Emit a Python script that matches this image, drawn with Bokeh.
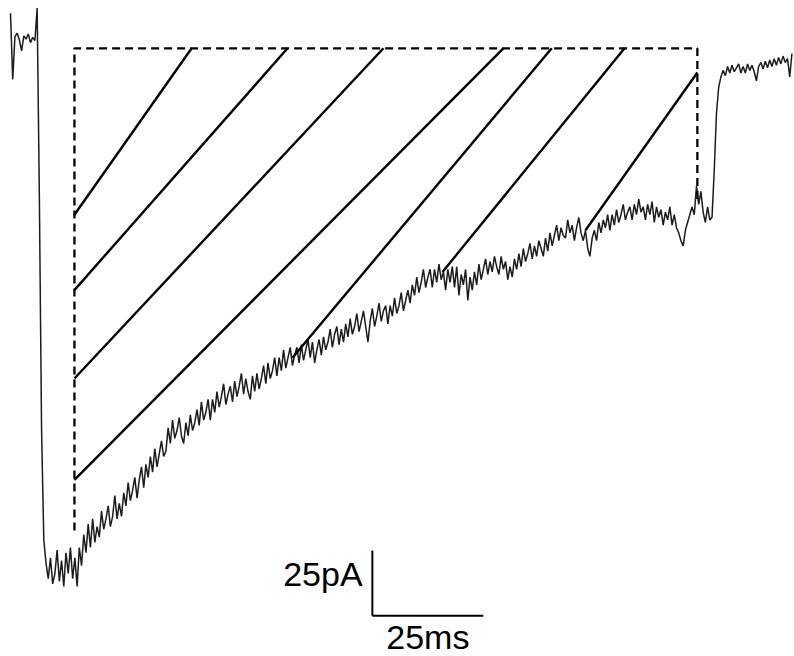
import numpy as np
from bokeh.plotting import figure
from bokeh.models import Range1d
from bokeh.core.properties import value
from bokeh.embed import file_html
from bokeh.resources import INLINE

# Whole-cell current trace, sampled every 0.5 ms (time in ms, current in pA)
dt_ms = 0.5
current_pa = [
    10.5, -15.0, 1.5, 2.8, 0.2, -4.0, 1.8, 0.5, 2.5, -0.8,
    1.2, 0.0, 12.5, -60, -150, -192, -201, -207, -199, -209,
    -205, -196, -208, -200, -210, -197, -205, -195, -207, -199,
    -210, -195, -202, -190, -197, -186, -195, -184, -193, -187,
    -191, -181, -188, -184, -179, -187, -183, -175, -184, -178,
    -183, -174, -179, -170, -177, -173, -168, -176, -169, -164,
    -172, -163, -168, -160, -166, -157, -164, -159, -154, -160,
    -158, -149, -155, -146, -153, -150, -145, -152, -155, -147,
    -152, -144, -150, -147, -142, -148, -139, -146, -143, -138,
    -146, -138, -143, -135, -141, -137, -132, -140, -136, -133,
    -139, -131, -137, -133, -128, -136, -130, -135, -138, -129,
    -135, -128, -134, -130, -125, -132, -124, -130, -127, -122,
    -129, -122, -127, -119, -126, -122, -118, -125, -121, -118,
    -124, -117, -123, -119, -115, -122, -116, -124, -119, -115,
    -121, -114, -119, -116, -111, -118, -113, -110, -117, -111,
    -116, -109, -114, -107, -113, -110, -105, -112, -108, -104,
    -110, -116, -108, -103, -110, -106, -101, -108, -104, -102,
    -109, -102, -106, -99, -105, -102, -97, -104, -100, -96,
    -101, -94, -98, -91, -97, -93, -88, -95, -91, -88,
    -95, -88, -93, -86, -92, -89, -96, -88, -93, -87,
    -95, -87, -98, -90, -94, -88, -100, -91, -96, -89,
    -94, -86, -92, -88, -84, -90, -85, -89, -83, -87,
    -90, -83, -88, -85, -92, -87, -91, -84, -88, -82,
    -87, -80, -85, -82, -78, -84, -79, -83, -77, -80,
    -83, -76, -81, -74, -79, -75, -71, -77, -72, -75,
    -76, -69, -74, -71, -77, -72, -68, -74, -77, -73,
    -80, -83, -76, -73, -77, -70, -74, -69, -72, -67,
    -73, -67, -71, -65, -70, -67, -63, -69, -66, -64,
    -69, -63, -67, -61, -66, -64, -69, -63, -67, -62,
    -70, -64, -68, -65, -71, -66, -69, -64, -71, -67,
    -72, -74, -77, -79, -73, -70, -67, -64, -67, -56,
    -63, -58, -66, -70, -64, -69, -68, -50, -28, -18,
    -14, -11.5, -13.5, -10, -12.5, -9.5, -12, -10.5, -9, -12.5,
    -10, -12.5, -9, -11.5, -9.5, -12, -15.5, -10, -8.5, -11,
    -8, -10.5, -7.5, -10, -7, -9.5, -6.5, -9, -6, -8.5,
    -7, -14, -5,
]
time_ms = np.arange(len(current_pa)) * dt_ms

# Dashed outline of the integrated charge region
region_t = [14.4, 14.4, 154.7, 154.7]
region_i = [-188.5, -3.0, -3.0, -62.7]

# Hatch strokes filling the region
hatch_t0 = [14.4, 14.4, 14.4, 14.4, 63.5, 97.3, 129.5]
hatch_i0 = [-67.0, -96.0, -130.0, -169.0, -122.0, -89.0, -73.0]
hatch_t1 = [40.8, 62.4, 84.0, 111.0, 121.9, 138.3, 154.7]
hatch_i1 = [-3.0, -3.0, -3.0, -3.0, -3.0, -3.0, -12.3]

# Scale bars
bar_ms = 25
bar_pa = 25
bar_t = 81.5
bar_i = -221.2
bar_labels = ["25pA", "25ms"]

p = figure(width=794, height=656, output_backend="svg", toolbar_location=None,
           x_axis_type=None, y_axis_type=None, min_border=0,
           x_range=Range1d(-2.252, 176.577), y_range=Range1d(-236.92, 15.385))
p.grid.visible = False
p.outline_line_color = None
p.background_fill_color = "white"
p.border_fill_color = "white"

p.line(time_ms, current_pa, line_color="#1c1c1c", line_width=1.5)

p.line(region_t, region_i, line_color="black", line_width=2.3, line_dash="8 5")
p.segment(hatch_t0, hatch_i0, hatch_t1, hatch_i1, line_color="black", line_width=2.4)

p.segment([bar_t, bar_t], [bar_i, bar_i], [bar_t, bar_t + bar_ms], [bar_i + bar_pa, bar_i],
          line_color="black", line_width=2)

p.text(x=[bar_t - 2.2], y=[bar_i + 16.0], text=[bar_labels[0]],
       text_font=value("Liberation Sans"), text_font_size="34px",
       text_align="right", text_baseline="middle", text_color="black")
p.text(x=[bar_t + bar_ms / 2], y=[bar_i - 8.4], text=[bar_labels[1]],
       text_font=value("Liberation Sans"), text_font_size="34px",
       text_align="center", text_baseline="middle", text_color="black")

open("out.html", "w").write(file_html(p, INLINE))
